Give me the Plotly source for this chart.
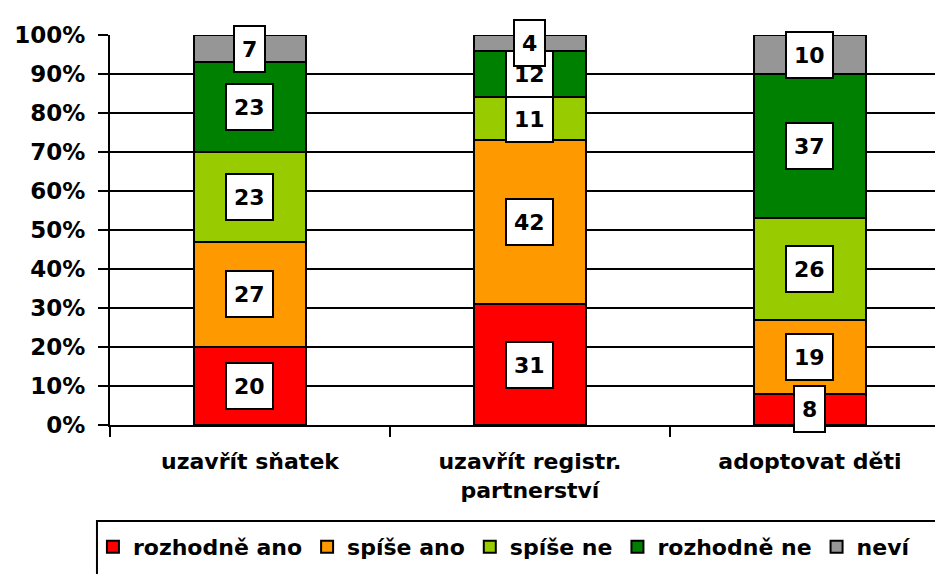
import plotly.graph_objects as go

categories = ["uzavřít sňatek", "uzavřít registr.<br>partnerství", "adoptovat děti"]
series_names = ["rozhodně ano", "spíše ano", "spíše ne", "rozhodně ne", "neví"]
rozhodne_ano = [20, 31, 8]
spise_ano = [27, 42, 19]
spise_ne = [23, 11, 26]
rozhodne_ne = [23, 12, 37]
nevi = [7, 4, 10]
series_values = [rozhodne_ano, spise_ano, spise_ne, rozhodne_ne, nevi]
colors = ["#FF0000", "#FF9900", "#99CC00", "#008000", "#969696"]
y_ticks = [0, 10, 20, 30, 40, 50, 60, 70, 80, 90, 100]

FONT = "DejaVu Sans"

fig = go.Figure()
for name, vals, col in zip(series_names, series_values, colors):
    fig.add_trace(go.Bar(
        x=categories, y=vals, name=name,
        marker=dict(color=col, line=dict(color="black", width=2)),
        width=0.4,
    ))

annotations = []
for ci, cat in enumerate(categories):
    cum = 0
    for vals in series_values:
        v = vals[ci]
        annotations.append(dict(
            x=cat, y=cum + v / 2, xref="x", yref="y",
            text="<b>%d</b>" % v, showarrow=False,
            font=dict(family=FONT, size=22, color="black"),
            bgcolor="white", bordercolor="black", borderwidth=2,
            borderpad=7, height=30,
        ))
        cum += v

# legend frame (runs off the right and bottom edge as in the original)
legend_frame = dict(
    type="rect", xref="paper", yref="paper",
    x0=-0.0155, x1=1.2, y0=-0.246, y1=-0.7,
    line=dict(color="black", width=2), fillcolor="rgba(0,0,0,0)",
)

# page body adds an 8px offset; margins compensate for it
fig.update_layout(
    width=943, height=574,
    barmode="stack",
    paper_bgcolor="white", plot_bgcolor="white",
    margin=dict(l=102, r=0, t=27, b=157),
    font=dict(family=FONT, size=20, color="black"),
    annotations=annotations,
    shapes=[legend_frame],
    showlegend=True,
    legend=dict(
        orientation="h", x=-0.0203, y=-0.2588, xanchor="left", yanchor="top",
        borderwidth=0, bgcolor="rgba(0,0,0,0)", traceorder="normal",
        font=dict(family=FONT, size=22, color="black", weight="bold"),
        itemwidth=30,
    ),
)
fig.update_yaxes(
    range=[0, 100], tickvals=y_ticks, ticktext=["%d%%" % t for t in y_ticks],
    showgrid=True, gridcolor="black", gridwidth=2,
    showline=True, linecolor="black", linewidth=2,
    ticks="outside", ticklen=10, tickwidth=2, tickcolor="black",
    ticklabelstandoff=8,
    tickfont=dict(family=FONT, size=23, color="black", weight="bold"),
    zeroline=False,
)
fig.update_xaxes(
    range=[-0.5, 2.504],
    showline=True, linecolor="black", linewidth=2,
    ticks="outside", tickson="boundaries", ticklen=10, tickwidth=2, tickcolor="black",
    ticklabelstandoff=16,
    tickfont=dict(family=FONT, size=22, color="black", weight="bold"),
    showgrid=False,
)

fig.write_html("out.html")
